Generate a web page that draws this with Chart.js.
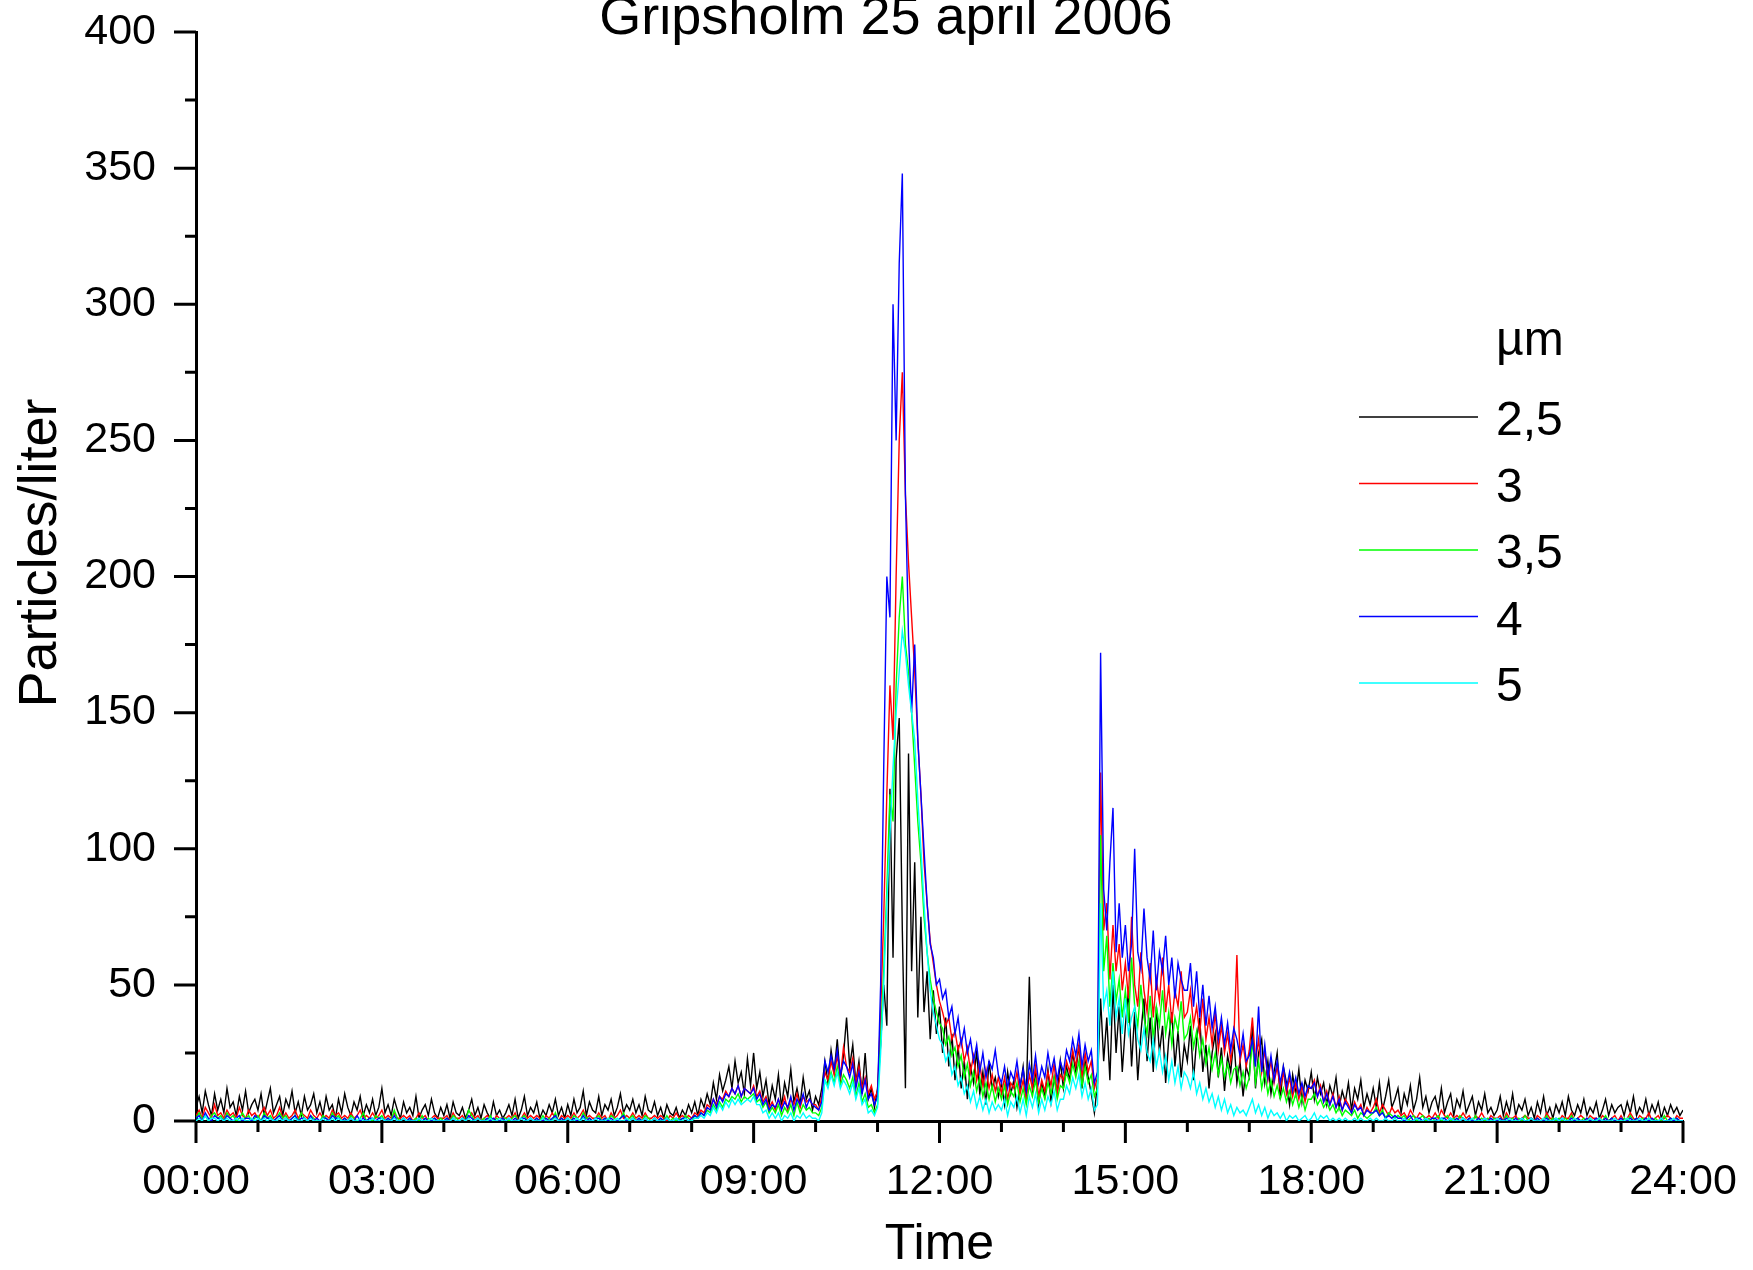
<!DOCTYPE html>
<html>
<head>
<meta charset="utf-8">
<title>Gripsholm 25 april 2006</title>
<script src="https://cdn.jsdelivr.net/npm/chart.js@4.4.1/dist/chart.umd.min.js"></script>
<style>
  html, body { margin: 0; padding: 0; background: #fff; }
  #wrap { width: 1753px; height: 1270px; }
</style>
</head>
<body>
<div id="wrap"><canvas id="chart"></canvas></div>
<script>
// particle counts, one value every 3 minutes from 00:00 to 24:00 (one row = one hour)
const STEP_MIN = 3;
const chartTitle = 'Gripsholm 25 april 2006';
const yTitle = 'Particles/liter';
const xTitle = 'Time';
const legendTitle = 'µm';
const sizeLabels = ['2,5', '3', '3,5', '4', '5'];
const sizeColors = ['#000000', '#ff0000', '#00ff00', '#0000ff', '#00ffff'];
const timeTickLabels = ['00:00', '03:00', '06:00', '09:00', '12:00', '15:00', '18:00', '21:00', '24:00'];

const p25 = [
  5, 9, 3, 11, 6, 2, 10, 4, 8, 3, 12, 5, 7, 2, 9, 4, 11, 3, 6, 8,
  4, 10, 2, 7, 12, 3, 6, 9, 2, 8, 5, 11, 3, 7, 2, 9, 4, 6, 10, 3,
  7, 2, 9, 4, 6, 1, 8, 3, 10, 5, 2, 7, 4, 9, 2, 6, 3, 8, 2, 5,
  12, 3, 6, 2, 8, 4, 1, 7, 3, 5, 2, 9, 1, 4, 6, 2, 8, 3, 1, 5,
  2, 6, 1, 7, 3, 2, 5, 1, 4, 8, 2, 5, 1, 6, 3, 1, 7, 2, 4, 1,
  3, 6, 2, 8, 1, 4, 9, 2, 5, 3, 7, 1, 4, 2, 6, 3, 8, 2, 5, 1,
  6, 2, 8, 3, 5, 11, 2, 7, 4, 3, 9, 2, 6, 4, 8, 2, 5, 10, 3, 6,
  4, 8, 3, 6, 2, 9, 4, 3, 7, 2, 5, 1, 6, 3, 2, 5, 1, 4, 2, 6,
  3, 7, 2, 8, 5, 10, 6, 14, 8, 17, 11, 15, 20, 12, 22, 14, 18, 10, 23, 13,
  25, 12, 18, 9, 15, 6, 13, 8, 17, 5, 14, 9, 19, 7, 12, 6, 16, 8, 11, 4,
  9, 6, 12, 22, 14, 26, 18, 30, 15, 24, 38, 20, 28, 14, 22, 10, 25, 8, 12, 5,
  12, 28, 50, 35, 122, 60, 133, 148, 70, 12, 135, 55, 95, 38, 75, 40, 55, 30, 48, 32,
  42, 25, 38, 20, 32, 15, 28, 12, 22, 8, 20, 14, 26, 10, 18, 6, 22, 12, 16, 9,
  14, 6, 18, 10, 15, 5, 12, 20, 8, 53, 11, 17, 6, 14, 9, 19, 7, 16, 10, 22,
  12, 20, 15, 25, 18, 28, 12, 22, 16, 10, 3, 14, 45, 22, 38, 15, 50, 25, 42, 18,
  35, 48, 20, 40, 15, 32, 45, 22, 38, 18, 42, 25, 35, 14, 30, 40, 20, 33, 16, 28,
  22, 35, 15, 30, 38, 18, 28, 12, 25, 32, 16, 27, 11, 24, 18, 30, 14, 22, 9, 20,
  16, 35, 12, 25, 30, 14, 22, 10, 18, 25, 8, 20, 14, 6, 17, 10, 19, 7, 15, 11,
  18, 8, 16, 10, 14, 6, 13, 9, 16, 5, 11, 7, 14, 4, 12, 8, 15, 5, 10, 6,
  12, 5, 14, 4, 9, 15, 5, 8, 12, 3, 10, 6, 13, 4, 8, 16, 5, 9, 3, 7,
  9, 4, 12, 3, 7, 10, 2, 8, 5, 11, 3, 6, 9, 2, 7, 4, 10, 3, 5, 2,
  4, 9, 2, 7, 3, 10, 2, 6, 4, 8, 2, 5, 1, 7, 3, 9, 2, 5, 1, 6,
  3, 7, 2, 9, 4, 2, 6, 3, 8, 2, 5, 3, 7, 1, 4, 8, 2, 6, 3, 5,
  6, 2, 7, 3, 9, 2, 5, 3, 8, 2, 6, 3, 7, 1, 5, 2, 6, 3, 5, 2,
  4
];

const p30 = [
  2, 4, 1, 5, 3, 1, 6, 2, 3, 1, 4, 2, 3, 1, 5, 2, 1, 4, 2, 3,
  1, 3, 5, 2, 4, 1, 2, 5, 1, 3, 1, 2, 4, 1, 3, 2, 1, 4, 2, 1,
  3, 1, 2, 1, 4, 2, 3, 1, 2, 1, 3, 1, 2, 4, 1, 2, 1, 3, 1, 2,
  4, 1, 2, 1, 3, 1, 1, 2, 1, 2, 0, 1, 3, 1, 2, 0, 1, 2, 1, 1,
  1, 2, 0, 3, 1, 1, 2, 0, 1, 3, 1, 2, 0, 1, 2, 1, 0, 2, 1, 1,
  1, 2, 1, 3, 0, 1, 3, 1, 2, 1, 2, 1, 0, 2, 1, 3, 1, 0, 2, 1,
  2, 1, 3, 1, 2, 4, 1, 2, 1, 1, 3, 1, 2, 0, 3, 1, 2, 4, 1, 2,
  1, 3, 1, 2, 1, 3, 1, 1, 2, 1, 2, 1, 0, 2, 1, 3, 1, 2, 1, 2,
  1, 3, 2, 4, 3, 6, 5, 8, 6, 9, 8, 11, 9, 12, 10, 13, 9, 12, 11, 10,
  13, 9, 11, 7, 9, 5, 7, 4, 8, 5, 9, 4, 8, 6, 10, 5, 9, 7, 8, 6,
  6, 4, 9, 18, 15, 22, 17, 24, 16, 27, 20, 18, 23, 14, 20, 12, 16, 10, 13, 8,
  11, 40, 75, 120, 160, 140, 200, 250, 275, 230, 205, 185, 165, 140, 120, 95, 80, 66, 58, 50,
  44, 40, 35, 38, 30, 33, 26, 30, 22, 27, 18, 24, 15, 21, 13, 19, 12, 17, 11, 16,
  10, 16, 8, 14, 12, 18, 10, 15, 8, 17, 12, 20, 9, 15, 11, 18, 13, 21, 10, 17,
  15, 22, 18, 26, 20, 28, 16, 25, 18, 22, 12, 16, 128, 70, 80, 52, 72, 55, 65, 48,
  58, 45, 75, 50, 42, 62, 48, 40, 58, 38, 52, 44, 60, 40, 50, 36, 48, 42, 55, 38,
  40, 48, 35, 42, 32, 45, 30, 38, 28, 40, 26, 35, 25, 32, 22, 30, 61, 22, 28, 20,
  26, 38, 22, 30, 18, 26, 15, 22, 14, 20, 12, 18, 10, 16, 9, 14, 8, 13, 7, 12,
  12, 15, 9, 13, 7, 11, 6, 10, 5, 9, 4, 8, 6, 3, 7, 4, 6, 2, 5, 3,
  5, 8, 3, 6, 4, 2, 5, 3, 4, 2, 3, 1, 4, 2, 1, 3, 2, 1, 2, 1,
  3, 1, 4, 2, 1, 3, 1, 2, 1, 3, 1, 2, 0, 2, 1, 3, 1, 0, 2, 1,
  1, 2, 0, 3, 1, 1, 2, 0, 1, 2, 1, 1, 0, 2, 1, 0, 3, 1, 1, 0,
  0, 2, 1, 1, 3, 0, 1, 2, 1, 0, 2, 1, 1, 0, 2, 1, 0, 1, 2, 0,
  2, 0, 1, 3, 1, 0, 2, 1, 1, 3, 0, 1, 2, 0, 1, 2, 1, 0, 2, 1,
  1
];

const p35 = [
  1, 3, 1, 2, 0, 2, 3, 1, 2, 0, 3, 1, 2, 0, 1, 3, 1, 2, 0, 1,
  2, 0, 3, 1, 2, 0, 1, 3, 1, 2, 0, 1, 2, 0, 3, 1, 0, 2, 1, 0,
  0, 2, 1, 0, 3, 1, 2, 0, 1, 0, 2, 1, 0, 1, 3, 0, 1, 0, 2, 1,
  2, 0, 1, 0, 4, 1, 0, 1, 0, 1, 0, 1, 0, 2, 0, 1, 0, 1, 0, 1,
  0, 1, 0, 2, 1, 0, 1, 0, 4, 2, 0, 1, 0, 1, 0, 2, 0, 1, 0, 1,
  1, 0, 1, 2, 0, 1, 2, 0, 1, 0, 1, 0, 2, 0, 1, 0, 3, 0, 1, 0,
  1, 0, 2, 1, 0, 3, 1, 1, 0, 1, 2, 0, 1, 0, 2, 1, 0, 1, 3, 0,
  1, 2, 0, 1, 0, 2, 1, 0, 1, 0, 1, 0, 2, 0, 1, 0, 1, 0, 2, 1,
  0, 2, 1, 3, 2, 4, 3, 6, 4, 7, 5, 8, 7, 9, 8, 10, 7, 9, 8, 9,
  10, 7, 8, 5, 7, 3, 5, 3, 6, 2, 5, 3, 6, 2, 7, 3, 6, 4, 5, 3,
  3, 2, 5, 15, 13, 18, 14, 20, 13, 17, 15, 12, 16, 9, 14, 7, 10, 5, 6, 3,
  6, 30, 55, 85, 120, 110, 160, 185, 200, 175, 165, 150, 130, 110, 95, 75, 62, 52, 45, 40,
  36, 34, 28, 31, 24, 27, 20, 24, 16, 21, 13, 18, 11, 16, 9, 14, 8, 13, 7, 12,
  8, 13, 6, 11, 9, 14, 7, 12, 6, 13, 9, 15, 7, 12, 8, 14, 10, 16, 8, 13,
  12, 18, 14, 21, 16, 22, 13, 20, 14, 17, 9, 12, 105, 55, 68, 42, 58, 44, 52, 38,
  48, 36, 60, 42, 35, 50, 38, 32, 46, 30, 42, 35, 48, 32, 40, 28, 38, 33, 44, 30,
  32, 38, 27, 33, 24, 30, 21, 27, 19, 25, 17, 23, 16, 21, 14, 19, 20, 13, 18, 12,
  16, 30, 14, 22, 12, 18, 10, 15, 9, 13, 8, 12, 7, 11, 6, 10, 5, 9, 4, 8,
  8, 10, 6, 8, 5, 7, 4, 6, 3, 5, 2, 4, 3, 2, 4, 1, 3, 2, 1, 2,
  3, 5, 2, 4, 1, 3, 2, 1, 2, 1, 2, 0, 1, 2, 0, 1, 2, 0, 1, 0,
  1, 2, 0, 1, 2, 0, 1, 0, 2, 1, 0, 1, 0, 2, 0, 1, 0, 1, 0, 1,
  0, 1, 0, 2, 0, 1, 0, 1, 0, 2, 0, 1, 0, 1, 0, 0, 2, 0, 1, 0,
  1, 0, 1, 0, 2, 0, 1, 0, 1, 0, 1, 0, 0, 1, 0, 2, 0, 1, 0, 0,
  0, 1, 0, 2, 0, 1, 0, 1, 0, 1, 0, 1, 0, 0, 2, 0, 1, 0, 1, 0,
  0
];

const p40 = [
  1, 2, 0, 3, 1, 0, 2, 1, 1, 0, 2, 1, 0, 1, 2, 0, 1, 1, 0, 2,
  1, 0, 2, 1, 1, 0, 1, 2, 0, 1, 0, 1, 2, 0, 1, 1, 0, 2, 0, 1,
  0, 1, 1, 0, 2, 1, 1, 0, 1, 0, 1, 0, 2, 0, 1, 0, 1, 1, 0, 1,
  1, 0, 1, 0, 2, 0, 0, 1, 0, 1, 0, 0, 1, 0, 1, 0, 0, 1, 0, 0,
  0, 1, 0, 1, 0, 0, 1, 0, 2, 1, 0, 1, 0, 0, 1, 0, 1, 0, 0, 1,
  0, 1, 0, 1, 0, 1, 1, 0, 1, 0, 1, 0, 0, 1, 0, 1, 2, 0, 1, 0,
  1, 0, 1, 0, 0, 2, 0, 1, 0, 1, 1, 0, 1, 0, 1, 0, 0, 1, 2, 0,
  0, 1, 0, 1, 0, 1, 0, 0, 1, 0, 1, 0, 1, 0, 0, 1, 0, 1, 1, 0,
  1, 2, 1, 3, 2, 5, 4, 8, 5, 9, 7, 10, 9, 12, 10, 13, 9, 12, 11, 10,
  12, 8, 10, 6, 8, 4, 6, 5, 8, 4, 7, 5, 9, 4, 8, 6, 10, 5, 8, 6,
  5, 4, 7, 22, 18, 24, 19, 26, 17, 22, 20, 16, 21, 12, 18, 10, 15, 8, 10, 6,
  9, 50, 130, 200, 185, 300, 250, 315, 348, 230, 178, 150, 175, 140, 120, 100, 80, 65, 60, 50,
  52, 45, 48, 38, 42, 32, 38, 28, 34, 25, 30, 22, 28, 18, 25, 16, 22, 19, 26, 17,
  14, 20, 12, 18, 15, 22, 13, 19, 11, 21, 15, 24, 14, 20, 16, 25, 18, 23, 15, 22,
  18, 26, 22, 30, 24, 32, 20, 28, 22, 26, 14, 18, 172, 85, 70, 95, 115, 62, 80, 60,
  72, 55, 65, 100, 62, 56, 78, 60, 52, 70, 48, 62, 55, 68, 50, 60, 45, 58, 52, 48,
  48, 58, 42, 55, 38, 50, 35, 46, 34, 42, 30, 38, 28, 36, 26, 34, 30, 24, 32, 22,
  24, 30, 20, 42, 18, 28, 16, 24, 15, 22, 14, 20, 12, 18, 11, 16, 10, 14, 9, 13,
  12, 14, 9, 12, 7, 10, 6, 9, 5, 8, 4, 7, 5, 3, 6, 4, 5, 2, 4, 3,
  3, 4, 2, 3, 1, 2, 1, 2, 1, 1, 0, 1, 2, 0, 1, 1, 0, 1, 0, 1,
  1, 0, 1, 1, 0, 1, 0, 1, 0, 1, 0, 1, 0, 0, 1, 0, 1, 0, 1, 0,
  0, 1, 0, 1, 0, 0, 1, 0, 1, 0, 0, 1, 0, 1, 0, 0, 1, 0, 0, 1,
  0, 1, 0, 0, 1, 0, 1, 0, 0, 1, 0, 0, 1, 0, 0, 1, 0, 1, 0, 0,
  1, 0, 0, 1, 0, 1, 0, 0, 1, 0, 1, 0, 0, 1, 0, 0, 1, 0, 1, 0,
  0
];

const p50 = [
  0, 1, 0, 2, 0, 1, 1, 0, 1, 0, 1, 0, 0, 1, 0, 1, 0, 0, 1, 0,
  1, 0, 1, 0, 1, 0, 0, 1, 0, 1, 0, 0, 1, 0, 0, 1, 0, 1, 0, 0,
  0, 1, 0, 0, 1, 0, 1, 0, 0, 0, 1, 0, 0, 1, 0, 0, 0, 1, 0, 0,
  1, 0, 0, 0, 1, 0, 0, 1, 0, 0, 0, 0, 1, 0, 0, 0, 1, 0, 0, 0,
  0, 0, 0, 1, 0, 0, 1, 0, 1, 0, 0, 1, 0, 0, 0, 1, 0, 0, 1, 0,
  0, 1, 0, 0, 0, 1, 0, 0, 1, 0, 0, 0, 1, 0, 0, 0, 1, 0, 0, 0,
  1, 0, 0, 1, 0, 1, 0, 0, 0, 1, 0, 0, 0, 1, 0, 0, 1, 0, 0, 1,
  0, 1, 0, 0, 0, 1, 0, 0, 1, 0, 0, 0, 1, 0, 0, 1, 0, 0, 1, 0,
  0, 1, 1, 2, 1, 3, 2, 5, 3, 6, 4, 7, 5, 8, 6, 8, 6, 7, 8, 7,
  9, 6, 6, 3, 4, 1, 3, 1, 3, 0, 2, 1, 3, 0, 2, 1, 3, 1, 2, 1,
  1, 0, 3, 15, 12, 17, 13, 18, 12, 15, 13, 10, 14, 8, 12, 6, 8, 3, 4, 2,
  5, 25, 50, 80, 105, 130, 150, 165, 180, 172, 160, 150, 140, 118, 100, 80, 62, 48, 40, 35,
  30, 28, 22, 25, 17, 20, 13, 16, 10, 13, 7, 11, 5, 9, 4, 8, 3, 7, 4, 6,
  4, 8, 2, 7, 5, 9, 3, 8, 2, 9, 5, 10, 3, 8, 4, 9, 6, 11, 4, 8,
  8, 13, 10, 16, 12, 17, 9, 14, 8, 12, 4, 6, 80, 42, 48, 35, 55, 38, 45, 32,
  45, 32, 38, 42, 30, 26, 34, 25, 22, 30, 20, 26, 18, 24, 15, 22, 14, 20, 12, 18,
  16, 12, 18, 10, 14, 8, 12, 7, 10, 5, 9, 4, 8, 3, 6, 2, 5, 3, 4, 2,
  5, 8, 3, 6, 2, 5, 1, 4, 2, 3, 1, 3, 0, 2, 1, 2, 0, 1, 2, 0,
  1, 3, 0, 2, 1, 2, 0, 1, 0, 1, 0, 1, 0, 0, 1, 0, 1, 0, 0, 1,
  0, 1, 0, 0, 1, 0, 0, 1, 0, 0, 1, 0, 0, 0, 1, 0, 0, 1, 0, 0,
  0, 0, 1, 0, 0, 1, 0, 0, 0, 1, 0, 0, 1, 0, 0, 0, 1, 0, 0, 0,
  1, 0, 0, 0, 1, 0, 0, 0, 1, 0, 0, 1, 0, 0, 0, 1, 0, 0, 0, 1,
  0, 1, 0, 0, 0, 1, 0, 0, 0, 0, 1, 0, 0, 1, 0, 0, 0, 0, 1, 0,
  0, 0, 1, 0, 0, 0, 1, 0, 0, 1, 0, 0, 0, 1, 0, 0, 0, 1, 0, 0,
  0
];

const seriesValues = [p25, p30, p35, p40, p50];

const FONT = '"Liberation Sans", Arial, sans-serif';
Chart.defaults.font.family = FONT;
Chart.defaults.color = '#000';

// outward major/minor tick marks, like the original plot
const axisTicks = {
  id: 'axisTicks',
  afterDraw(chart) {
    const { ctx, scales: { x, y } } = chart;
    ctx.save();
    ctx.strokeStyle = '#000';
    ctx.lineWidth = 3;
    ctx.beginPath();
    x.ticks.forEach(t => {
      const px = x.getPixelForValue(t.value);
      const len = t.value % 180 === 0 ? 22 : 11;
      ctx.moveTo(px, y.bottom);
      ctx.lineTo(px, y.bottom + len);
    });
    y.ticks.forEach(t => {
      const py = y.getPixelForValue(t.value);
      const len = t.value % 50 === 0 ? 22 : 11;
      ctx.moveTo(x.left, py);
      ctx.lineTo(x.left - len, py);
    });
    ctx.stroke();
    ctx.restore();
  }
};

// title, rotated y title and the in-plot legend
const annotations = {
  id: 'annotations',
  afterDraw(chart) {
    const { ctx } = chart;
    ctx.save();
    ctx.fillStyle = '#000';
    ctx.textBaseline = 'alphabetic';

    ctx.font = '54px ' + FONT;
    ctx.textAlign = 'center';
    ctx.fillText(chartTitle, 886, 34);

    ctx.save();
    ctx.translate(56, 553);
    ctx.rotate(-Math.PI / 2);
    ctx.fillText(yTitle, 0, 0);
    ctx.restore();

    ctx.font = '48px ' + FONT;
    ctx.textAlign = 'left';
    ctx.fillText(legendTitle, 1496, 355);
    chart.data.datasets.forEach((ds, i) => {
      const ly = 417 + i * 66.5;
      ctx.strokeStyle = ds.borderColor;
      ctx.lineWidth = 1.5;
      ctx.beginPath();
      ctx.moveTo(1359, ly);
      ctx.lineTo(1478, ly);
      ctx.stroke();
      ctx.fillText(ds.label, 1496, ly + 18);
    });
    ctx.restore();
  }
};

new Chart(document.getElementById('chart'), {
  type: 'line',
  data: {
    datasets: seriesValues.map((vals, k) => ({
      label: sizeLabels[k],
      data: vals.map((v, i) => ({ x: i * STEP_MIN, y: v })),
      borderColor: sizeColors[k],
      backgroundColor: sizeColors[k],
      borderWidth: 1.4,
      pointRadius: 0,
      tension: 0,
      order: sizeLabels.length - k
    }))
  },
  options: {
    responsive: true,
    maintainAspectRatio: false,
    animation: false,
    events: [],
    layout: { padding: { top: 32, right: 70, left: 0, bottom: 0 } },
    plugins: { legend: { display: false }, tooltip: { enabled: false } },
    scales: {
      x: {
        type: 'linear',
        min: 0,
        max: 1440,
        afterFit(s) { s.height = 149; s.paddingLeft = 0; s.paddingRight = 0; },
        grid: { display: false, drawTicks: false },
        border: { display: true, color: '#000', width: 3 },
        ticks: {
          stepSize: 60,
          autoSkip: false,
          maxRotation: 0,
          padding: 35,
          font: { size: 43 },
          color: '#000',
          callback: v => (v % 180 === 0 ? timeTickLabels[v / 180] : '')
        },
        title: { display: true, text: xTitle, font: { size: 50, lineHeight: 1.0 }, color: '#000', padding: { top: 0, bottom: 0 } }
      },
      y: {
        min: 0,
        max: 400,
        afterFit(s) { s.width = 196; s.paddingTop = 0; s.paddingBottom = 0; },
        grid: { display: false, drawTicks: false },
        border: { display: true, color: '#000', width: 3 },
        ticks: {
          stepSize: 25,
          autoSkip: false,
          padding: 40,
          font: { size: 43 },
          color: '#000',
          callback: v => (v % 50 === 0 ? String(v) : '')
        }
      }
    }
  },
  plugins: [axisTicks, annotations]
});
</script>
</body>
</html>
